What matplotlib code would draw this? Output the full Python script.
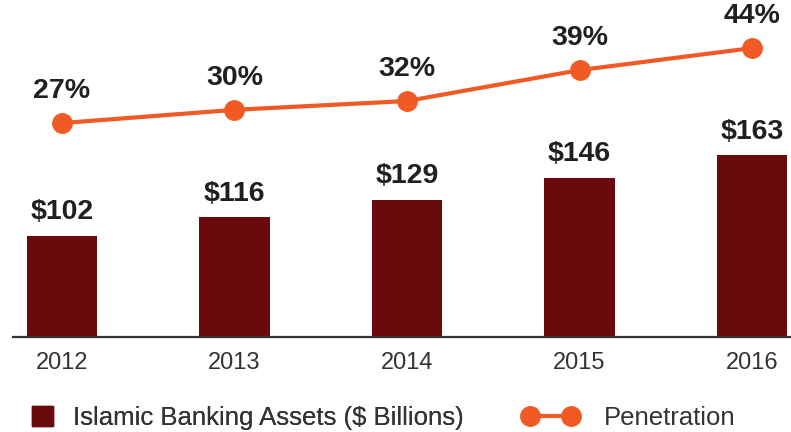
import matplotlib
matplotlib.use("Agg")
import matplotlib.pyplot as plt
from matplotlib.patches import Rectangle
from matplotlib.lines import Line2D

years = ["2012", "2013", "2014", "2015", "2016"]
assets = [102, 116, 129, 146, 163]
penetration = [27, 30, 32, 39, 44]
asset_labels = ["$102", "$116", "$129", "$146", "$163"]
pen_labels = ["27%", "30%", "32%", "39%", "44%"]

BAR = "#6A0A0D"
LINE = "#F15A24"
TXT = "#231F20"

plt.rcParams['font.family'] = ['Liberation Sans', 'DejaVu Sans']

fig = plt.figure(figsize=(7.91, 4.32), dpi=100)
ax = fig.add_axes([13/791, 95/432, 778/791, 337/432])
x = list(range(len(years)))
ax.bar(x, assets, width=0.406, color=BAR, zorder=2)
ax.set_xlim(-0.284, 4.226)
ax.set_ylim(25, 281)
for s in ["top", "left", "right"]:
    ax.spines[s].set_visible(False)
ax.spines["bottom"].set_color("#333333")
ax.spines["bottom"].set_linewidth(1.6)
ax.set_yticks([])
ax.set_xticks(x)
ax.set_xticklabels(years, fontsize=17, color="#333333")
ax.tick_params(axis="x", length=0, pad=11)
for xi, v, lab in zip(x, assets, asset_labels):
    ax.annotate(lab, (xi, v), xytext=(0, 17), textcoords="offset points",
                ha="center", va="center", fontsize=20.5, fontweight="bold", color=TXT)

ax2 = ax.twinx()
ax2.set_ylim(-21.5, 54.9)
ax2.axis("off")
ax2.plot(x, penetration, color=LINE, lw=3, marker="o", markersize=14, zorder=3)
for xi, v, lab in zip(x, penetration, pen_labels):
    ax2.annotate(lab, (xi, v), xytext=(0, 23), textcoords="offset points",
                 ha="center", va="center", fontsize=20.5, fontweight="bold", color=TXT)

h1 = Rectangle((0, 0), 1, 1, color=BAR)
h2 = Line2D([], [], color=LINE, lw=3, marker="o", markersize=14)
leg1 = fig.legend([h1], ["Islamic Banking Assets (\u0024 Billions)"], loc="center left",
                  bbox_to_anchor=(32/791, 1 - 418/432), frameon=False, fontsize=18.5,
                  handlelength=0.8, handleheight=0.8, handletextpad=0.8,
                  borderpad=0, borderaxespad=0, labelcolor="#333333")
leg2 = fig.legend([h2], ["Penetration"], loc="center left",
                  bbox_to_anchor=(522/791, 1 - 418/432), frameon=False, fontsize=18.5,
                  handlelength=2.2, numpoints=2, handletextpad=1.0,
                  borderpad=0, borderaxespad=0, labelcolor="#333333")
fig.add_artist(leg1)

fig.savefig("out.png", dpi=100)
